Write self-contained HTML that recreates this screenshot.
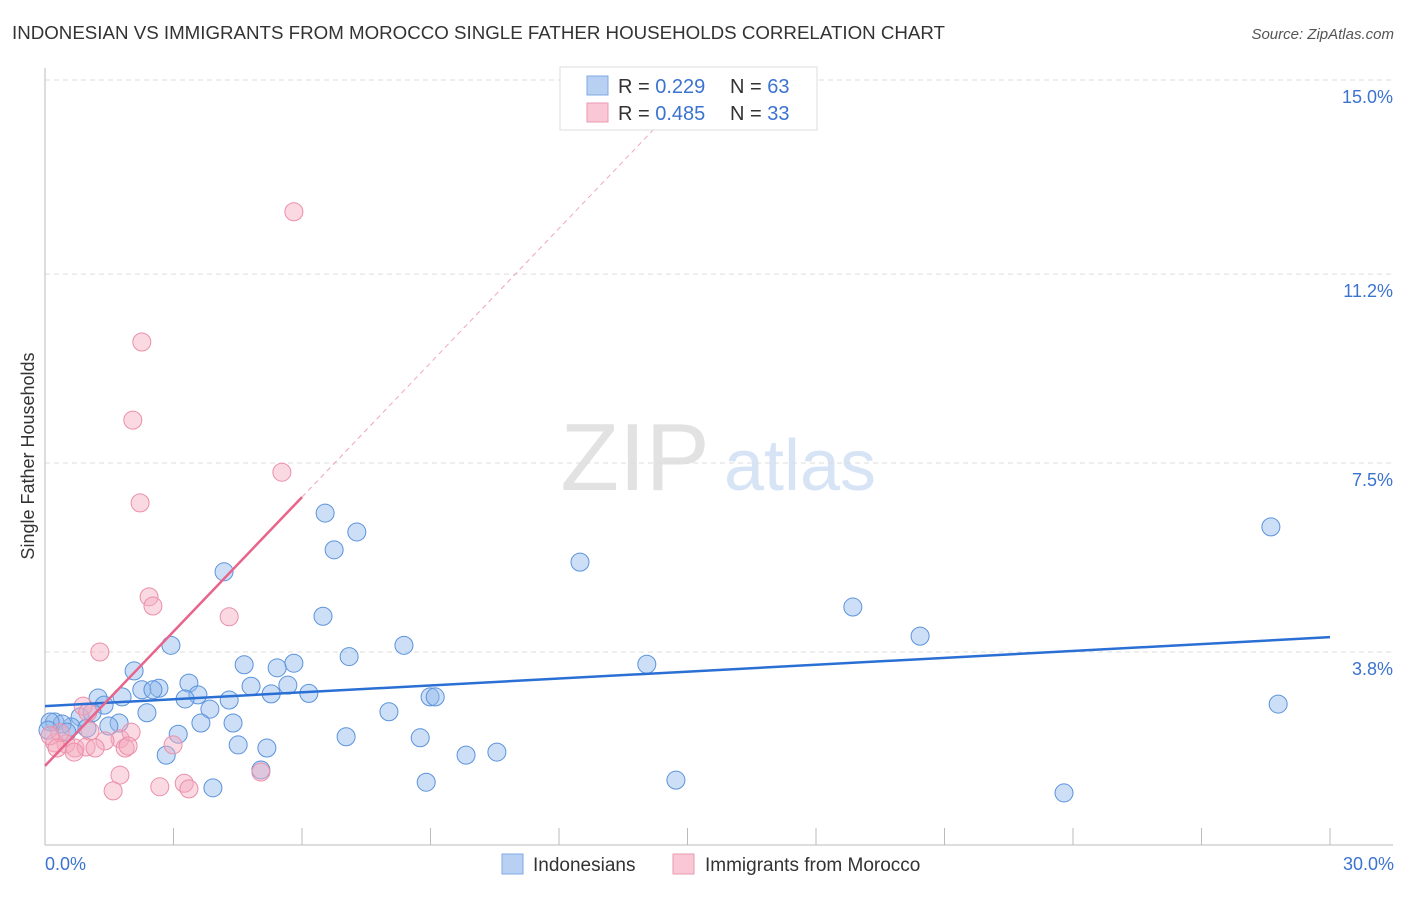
<!DOCTYPE html>
<html><head><meta charset="utf-8"><style>
body{margin:0;background:#fff;font-family:"Liberation Sans",sans-serif;}
svg text{font-family:"Liberation Sans",sans-serif;}
</style></head><body>
<svg width="1406" height="892" xmlns="http://www.w3.org/2000/svg">
<text x="12" y="39" font-size="18" fill="#333" textLength="933" lengthAdjust="spacingAndGlyphs">INDONESIAN VS IMMIGRANTS FROM MOROCCO SINGLE FATHER HOUSEHOLDS CORRELATION CHART</text>
<text x="1394" y="39" font-size="15" fill="#555" font-style="italic" text-anchor="end">Source: ZipAtlas.com</text>
<g><text x="635" y="490" font-size="96" fill="#e2e2e2" font-family="Liberation Serif" text-anchor="middle">ZIP</text><text x="800" y="490" font-size="72" fill="#d6e4f5" text-anchor="middle">atlas</text></g>
<g id="grid"></g><g id="axes"></g><g id="marks"></g>
<text transform="translate(34,456) rotate(-90)" font-size="18" fill="#333" text-anchor="middle">Single Father Households</text>
<text x="45" y="870" font-size="18" fill="#3b73d0">0.0%</text>
<text x="1394" y="870" font-size="18" fill="#3b73d0" text-anchor="end">30.0%</text>
<g>
<rect x="560" y="67" width="257" height="63" fill="#fff" stroke="#ddd"/>
<rect x="587" y="76" width="21" height="19" fill="#b8d1f3" stroke="#7fa8e3"/>
<rect x="587" y="103" width="21" height="19" fill="#f9c7d5" stroke="#ec9ab3"/>
<text x="618" y="93" font-size="20" fill="#333">R = <tspan fill="#3b73d0">0.229</tspan><tspan x="730">N = </tspan><tspan fill="#3b73d0">63</tspan></text>
<text x="618" y="120" font-size="20" fill="#333">R = <tspan fill="#3b73d0">0.485</tspan><tspan x="730">N = </tspan><tspan fill="#3b73d0">33</tspan></text>
</g>
<g>
<rect x="502" y="854" width="21" height="20" fill="#b8d1f3" stroke="#7fa8e3"/>
<text x="533" y="871" font-size="19" fill="#333">Indonesians</text>
<rect x="673" y="854" width="21" height="20" fill="#f9c7d5" stroke="#ec9ab3"/>
<text x="705" y="871" font-size="19" fill="#333">Immigrants from Morocco</text>
</g>
</svg>
<script>
const yTicks=[3.8,7.5,11.2,15.0];
const yTickLabels=["3.8%","7.5%","11.2%","15.0%"];
const xTicks=[3,6,9,12,15,18,21,24,27,30];
const blueX=[4.18,6.54,7.28,6.75,12.49,28.62,18.86,20.43,6.49,2.94,8.38,7.10,5.81,14.05,4.65,5.42,2.08,3.36,4.81,5.67,2.66,2.26,2.52,3.57,1.24,6.16,3.27,1.80,5.28,4.30,8.99,9.11,1.38,28.79,2.38,3.85,8.03,0.82,1.10,1.73,4.39,3.64,1.49,0.61,0.23,3.11,7.03,8.76,4.51,5.18,2.83,9.83,10.55,5.04,14.73,8.90,3.92,23.79,0.40,0.12,0.07,0.51,0.98];
const blueY=[5.37,6.52,6.15,5.80,5.56,6.25,4.68,4.11,4.50,3.93,3.93,3.71,3.58,3.56,3.55,3.49,3.43,3.19,3.13,3.15,3.09,3.06,3.06,2.96,2.90,2.99,2.88,2.92,2.98,2.86,2.92,2.92,2.76,2.78,2.61,2.68,2.63,2.53,2.61,2.41,2.41,2.41,2.35,2.33,2.43,2.19,2.14,2.12,1.98,1.92,1.78,1.78,1.84,1.49,1.29,1.25,1.14,1.04,2.39,2.43,2.27,2.23,2.31];
const pinkX=[5.81,2.26,2.05,5.53,2.22,2.43,2.52,4.30,1.28,0.89,1.00,1.05,1.75,1.40,0.49,0.70,0.96,1.17,1.87,2.01,1.94,2.99,0.68,1.75,1.59,2.68,3.25,3.36,5.04,0.23,0.35,0.12,0.28];
const pinkY=[12.42,9.87,8.34,7.32,6.72,4.88,4.70,4.49,3.80,2.74,2.62,2.25,2.10,2.06,2.00,1.92,1.94,1.92,1.92,2.23,1.96,1.98,1.84,1.39,1.08,1.16,1.23,1.12,1.45,2.02,2.22,2.16,1.92];
const blueTrend=[2.74,4.09];      // y at x=0 and x=30
const pinkTrend=[1.57,0.877];     // intercept, slope
const NS="http://www.w3.org/2000/svg";
const X=v=>45+v*1285/30, Y=v=>80+(15-v)*51.07;
function mk(tag,attrs,parent){const e=document.createElementNS(NS,tag);for(const k in attrs)e.setAttribute(k,attrs[k]);document.getElementById(parent).appendChild(e);return e;}
yTicks.forEach((t,i)=>{
 const g=mk('line',{x1:45,x2:1393,y1:Y(t),y2:Y(t),stroke:'#ddd','stroke-dasharray':'5,4'},'grid');
 
 
 const l=mk('text',{x:1393,y:Y(t)+23,'font-size':18,fill:'#3b73d0','text-anchor':'end'},'grid');
 l.textContent=yTickLabels[i];
 
 
});
const ya=mk('line',{x1:45,x2:45,y1:68,y2:845,stroke:'#bbb'},'axes');


const xa=mk('line',{x1:45,x2:1393,y1:845,y2:845,stroke:'#bbb'},'axes');


xTicks.forEach(t=>{
 const e=mk('line',{x1:X(t),x2:X(t),y1:828,y2:845,stroke:'#bbb'},'axes');
 
 
});
blueX.forEach((v,i)=>{
 const c=mk('circle',{cx:X(v),cy:Y(blueY[i]),r:9,fill:'rgba(145,185,235,0.45)',stroke:'#5b93dc','stroke-width':1},'marks');
 
 
});
pinkX.forEach((v,i)=>{
 const c=mk('circle',{cx:X(v),cy:Y(pinkY[i]),r:9,fill:'rgba(245,170,190,0.45)',stroke:'#eb8faa','stroke-width':1},'marks');
 
 
});
const bt=mk('line',{x1:X(0),y1:Y(blueTrend[0]),x2:X(30),y2:Y(blueTrend[1]),stroke:'#2a6fd4','stroke-width':2.5},'marks');


const pf=x=>pinkTrend[0]+pinkTrend[1]*x;
const pd=mk('line',{x1:X(6),y1:Y(pf(6)),x2:X(14.3),y2:Y(pf(14.3)),stroke:'#f0a5bb','stroke-width':1,'stroke-dasharray':'5,4'},'marks');


const pt=mk('line',{x1:X(0),y1:Y(pf(0)),x2:X(6),y2:Y(pf(6)),stroke:'#e8648b','stroke-width':2.5},'marks');


</script>
</body></html>
